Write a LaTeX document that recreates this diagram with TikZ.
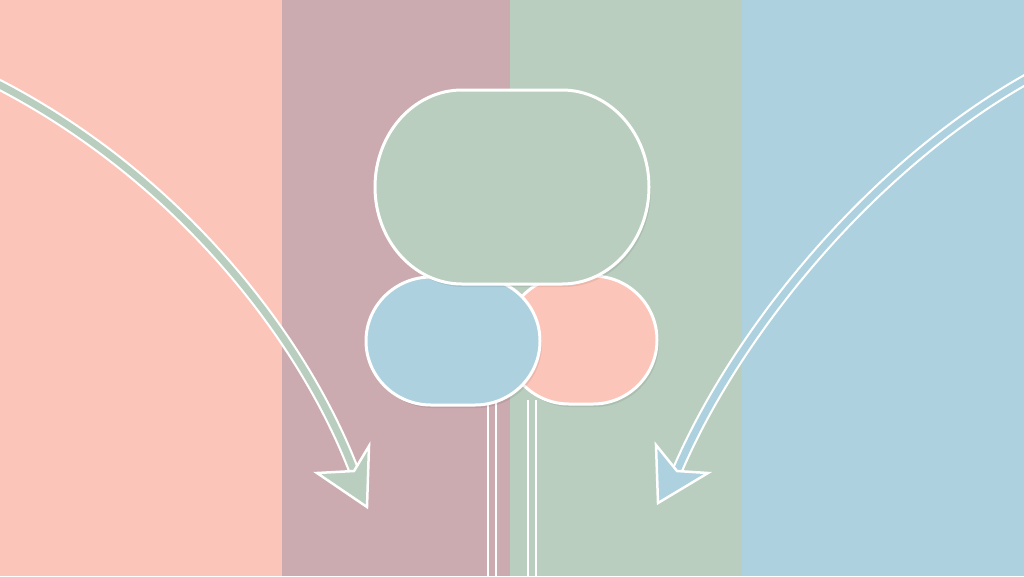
\documentclass[tikz,border=0pt]{standalone}
\usetikzlibrary{positioning}
\definecolor{salmon}{HTML}{FCC5B9}
\definecolor{mauve}{HTML}{CBABAF}
\definecolor{sage}{HTML}{B9CEBE}
\definecolor{sky}{HTML}{ADD1DE}
% forma a pillola: centro, mezza parte piatta, raggi
\newcommand{\pillshape}[5]{%
  (#1-#3,#2-#5) -- (#1+#3,#2-#5)
  arc[start angle=-90, end angle=90, x radius=#4, y radius=#5]
  -- (#1-#3,#2+#5)
  arc[start angle=90, end angle=270, x radius=#4, y radius=#5] -- cycle}
\begin{document}
\begin{tikzpicture}[x=1pt, y=-1pt]
    % Stili
    \tikzset{
        band/.style={draw=none},
        pill/.style={draw=white, line width=3pt},
        shade/.style={fill=black, opacity=0.07, draw=none},
        rail/.style={draw=white, line width=2pt},
        curve/.style={draw=white, line width=2.2pt, double distance=7pt},
        headtip/.style={draw=white, line width=2.5pt, line join=miter}
    }
    \useasboundingbox (0,0) rectangle (1024,576);

    % Fasce
    \fill[band, salmon] (0,0) rectangle (282,576);
    \fill[band, mauve] (282,0) rectangle (510,576);
    \fill[band, sage] (510,0) rectangle (742,576);
    \fill[band, sky] (742,0) rectangle (1024,576);

    % Binari verticali
    \coordinate (railA) at (488,400);
    \coordinate (railB) at (496,400);
    \coordinate (railC) at (528,400);
    \coordinate (railD) at (536,400);
    \draw[rail] (railA) -- (railA |- 0,580);
    \draw[rail] (railB) -- (railB |- 0,580);
    \draw[rail] (railC) -- (railC |- 0,580);
    \draw[rail] (railD) -- (railD |- 0,580);

    % Forme
    \fill[shade] \pillshape{583}{343}{12}{64}{64};
    \path[pill, fill=salmon] \pillshape{581}{340}{12}{64}{64};
    \fill[shade] \pillshape{455}{344}{22}{65}{64};
    \path[pill, fill=sky] \pillshape{453}{341}{22}{65}{64};
    \fill[shade] \pillshape{514}{190}{50}{87}{97};
    \path[pill, fill=sage] \pillshape{512}{187}{50}{87}{97};

    % Frecce curve
    \coordinate (startL) at (-10,80);
    \coordinate (notchL) at (354,471);
    \coordinate (startR) at (1034,75);
    \coordinate (notchR) at (677,471);
    \draw[curve, double=sage] (startL) .. controls (170,170) and (300,330) .. (notchL);
    \draw[curve, double=sky] (startR) .. controls (870,165) and (735,335) .. (notchR);
    \filldraw[headtip, fill=sage] (notchL) -- (317,473) -- (367,507) -- (369,446) -- cycle;
    \filldraw[headtip, fill=sky] (notchR) -- (708,473) -- (658,503) -- (656,445) -- cycle;
\end{tikzpicture}
\end{document}
